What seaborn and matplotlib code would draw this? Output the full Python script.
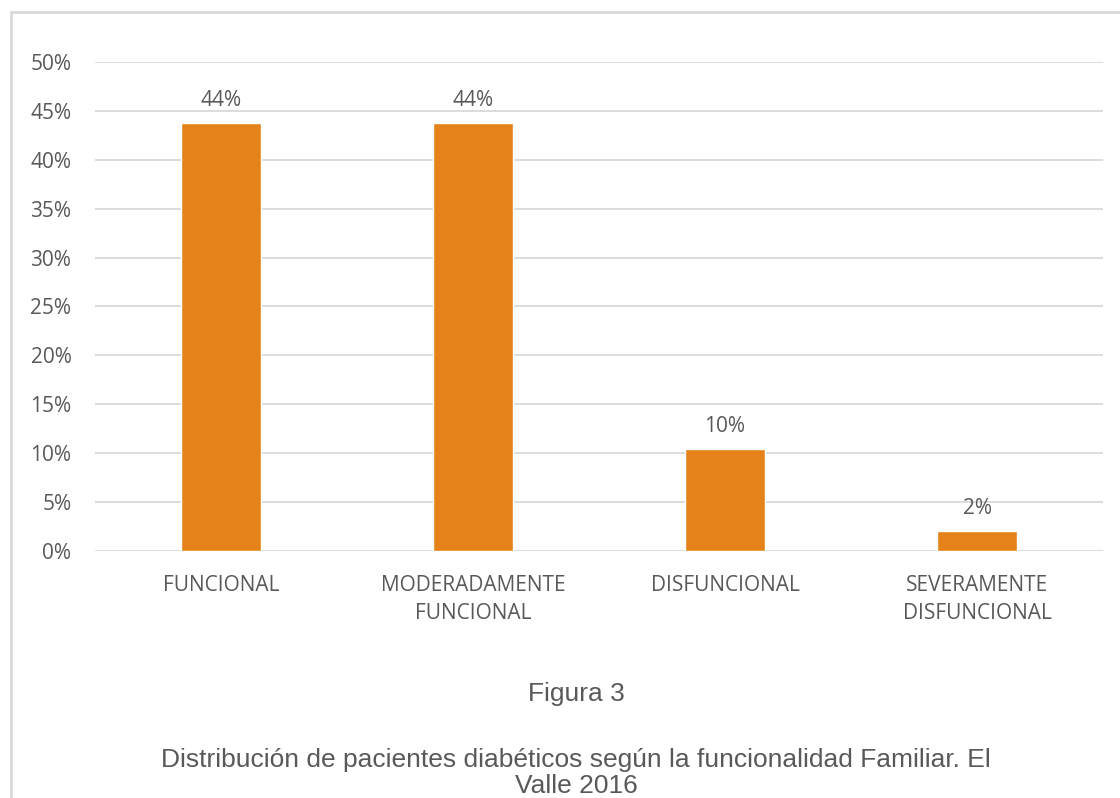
import matplotlib
matplotlib.use("Agg")
import matplotlib.pyplot as plt
import seaborn as sns
import pandas as pd
from matplotlib.patches import Rectangle
from matplotlib.ticker import MultipleLocator, FuncFormatter

# datos (proporción de pacientes)
categorias = ["FUNCIONAL", "MODERADAMENTE\nFUNCIONAL", "DISFUNCIONAL", "SEVERAMENTE\nDISFUNCIONAL"]
porcentajes = [0.4375, 0.4375, 0.1042, 0.0208]
etiquetas = ["44%", "44%", "10%", "2%"]

df = pd.DataFrame({"categoria": categorias, "valor": porcentajes})

sns.set_theme(style="white")
plt.rcParams["font.family"] = ["Open Sans", "DejaVu Sans"]

gris_texto = "#595959"
gris_linea = "#D9D9D9"
naranja = "#E5831A"

fig = plt.figure(figsize=(11.2, 7.98), dpi=100)
ax = fig.add_axes([95 / 1120, 1 - 551 / 798, 1008 / 1120, 489 / 798])

sns.barplot(data=df, x="categoria", y="valor", color=naranja, width=0.315,
            saturation=1, ax=ax, zorder=3)

ax.set_ylim(0, 0.5)
ax.yaxis.set_major_locator(MultipleLocator(0.05))
ax.yaxis.set_major_formatter(FuncFormatter(lambda v, p: f"{v * 100:.0f}%"))
ax.grid(axis="y", color=gris_linea, linewidth=1.3, zorder=0)
ax.set_axisbelow(True)
for s in ax.spines.values():
    s.set_visible(False)
ax.set_xlabel("")
ax.set_ylabel("")
ax.tick_params(axis="both", length=0, colors=gris_texto, labelsize=15)
ax.tick_params(axis="y", pad=17)
ax.tick_params(axis="x", pad=17)
for t in ax.get_xticklabels():
    t.set_linespacing(1.45)
    t.set_verticalalignment("top")

for cont in ax.containers:
    ax.bar_label(cont, labels=etiquetas, padding=8.5, fontsize=15, color=gris_texto)

# marco del gráfico
fig.patches.append(Rectangle((11 / 1120, -0.05), 1.2, 1 - 12 / 798 + 0.05,
                             transform=fig.transFigure, fill=False,
                             edgecolor=gris_linea, linewidth=2))

fig.text(576 / 1120, 1 - 694 / 798, "Figura 3", ha="center", va="center",
         fontsize=19, color=gris_texto, family="Liberation Sans")
fig.text(576 / 1120, 1 - 773 / 798,
         "Distribución de pacientes diabéticos según la funcionalidad Familiar. El\nValle 2016",
         ha="center", va="center", fontsize=19, color=gris_texto,
         family="Liberation Sans", linespacing=1.08)

fig.savefig("out.png", dpi=100)
